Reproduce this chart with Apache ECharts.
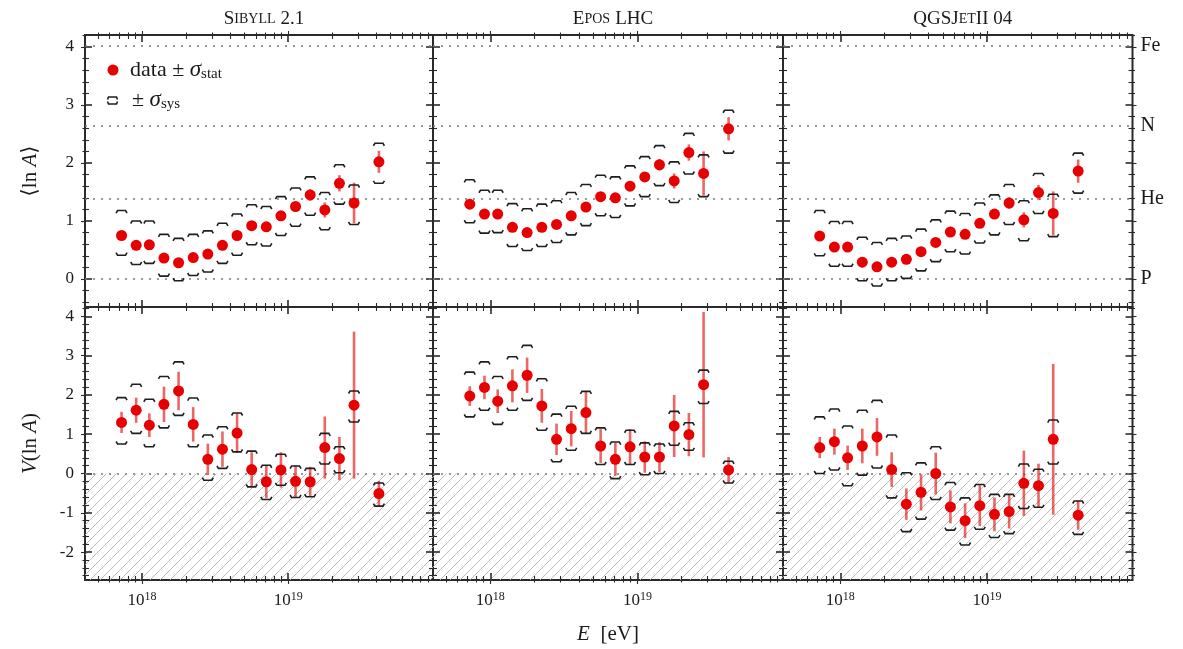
<!DOCTYPE html>
<html><head><meta charset="utf-8">
<script src="https://cdn.jsdelivr.net/npm/echarts@6/dist/echarts.min.js"></script>
<style>html,body{margin:0;padding:0;background:#fff}#c{width:1183px;height:649px}</style>
</head><body><div id="c"></div>
<script>
// ---------------- data ----------------
const modelTitles = ['{a|S}{b|IBYLL} {a|2.1}', '{a|E}{b|POS} {a|LHC}', '{a|QGSJ}{b|ET}{a|II 04}'];
const elementNames = ['P', 'He', 'N', 'Fe'];
const elementLnA = [0, 1.386, 2.639, 4.025];
const xTickLabels = [18, 19];           // 10^18, 10^19
const lgE = [17.86, 17.96, 18.05, 18.15, 18.25, 18.35, 18.45, 18.55, 18.65, 18.75, 18.85, 18.95, 19.05, 19.15, 19.25, 19.35, 19.45, 19.62];

// <ln A>
const sibLnA      = [0.75, 0.58, 0.59, 0.36, 0.28, 0.37, 0.43, 0.58, 0.75, 0.92, 0.90, 1.09, 1.25, 1.45, 1.19, 1.65, 1.31, 2.02];
const sibLnAStat  = [0.04, 0.04, 0.04, 0.04, 0.04, 0.04, 0.04, 0.05, 0.05, 0.06, 0.06, 0.07, 0.08, 0.10, 0.13, 0.14, 0.35, 0.19];
const sibLnASysHi = [1.18, 1.00, 1.00, 0.77, 0.70, 0.77, 0.83, 0.96, 1.12, 1.28, 1.25, 1.42, 1.57, 1.76, 1.49, 1.97, 1.62, 2.34];
const sibLnASysLo = [0.41, 0.25, 0.27, 0.05, -0.03, 0.06, 0.12, 0.27, 0.41, 0.59, 0.57, 0.75, 0.91, 1.10, 0.85, 1.29, 0.94, 1.65];

const eposLnA      = [1.29, 1.12, 1.12, 0.89, 0.80, 0.89, 0.94, 1.09, 1.24, 1.42, 1.40, 1.60, 1.76, 1.97, 1.69, 2.18, 1.82, 2.59];
const eposLnAStat  = [0.04, 0.04, 0.04, 0.04, 0.04, 0.04, 0.04, 0.05, 0.05, 0.06, 0.06, 0.07, 0.08, 0.10, 0.13, 0.14, 0.38, 0.20];
const eposLnASysHi = [1.71, 1.53, 1.53, 1.30, 1.21, 1.29, 1.35, 1.49, 1.63, 1.79, 1.76, 1.95, 2.11, 2.30, 2.02, 2.51, 2.14, 2.91];
const eposLnASysLo = [0.97, 0.79, 0.80, 0.56, 0.49, 0.56, 0.63, 0.76, 0.92, 1.09, 1.06, 1.26, 1.42, 1.61, 1.32, 1.81, 1.42, 2.17];

const qgsLnA      = [0.74, 0.55, 0.55, 0.29, 0.21, 0.29, 0.34, 0.47, 0.63, 0.81, 0.77, 0.96, 1.12, 1.31, 1.02, 1.49, 1.13, 1.86];
const qgsLnAStat  = [0.04, 0.04, 0.04, 0.04, 0.04, 0.04, 0.04, 0.05, 0.05, 0.06, 0.06, 0.07, 0.08, 0.10, 0.13, 0.13, 0.38, 0.20];
const qgsLnASysHi = [1.18, 0.99, 0.99, 0.72, 0.63, 0.70, 0.74, 0.86, 1.02, 1.17, 1.13, 1.31, 1.45, 1.63, 1.35, 1.82, 1.46, 2.17];
const qgsLnASysLo = [0.40, 0.22, 0.22, -0.03, -0.12, -0.03, 0.01, 0.14, 0.30, 0.47, 0.43, 0.62, 0.76, 0.94, 0.66, 1.13, 0.73, 1.48];

// V(ln A)
const sibV      = [1.30, 1.61, 1.23, 1.76, 2.10, 1.25, 0.36, 0.62, 1.03, 0.10, -0.21, 0.09, -0.20, -0.21, 0.66, 0.38, 1.74, -0.51];
const sibVStat  = [0.27, 0.32, 0.30, 0.45, 0.49, 0.44, 0.40, 0.45, 0.50, 0.44, 0.42, 0.45, 0.40, 0.38, 0.79, 0.55, 1.87, 0.32];
const sibVSysHi = [1.93, 2.27, 1.89, 2.47, 2.84, 1.92, 0.98, 1.19, 1.54, 0.57, 0.21, 0.49, 0.19, 0.13, 1.02, 0.68, 2.10, -0.24];
const sibVSysLo = [0.75, 1.02, 0.68, 1.16, 1.48, 0.68, -0.17, 0.13, 0.55, -0.34, -0.66, -0.30, -0.61, -0.59, 0.24, 0.02, 1.31, -0.83];

const eposV      = [1.97, 2.19, 1.84, 2.23, 2.50, 1.72, 0.87, 1.14, 1.55, 0.70, 0.36, 0.68, 0.42, 0.42, 1.21, 0.99, 2.26, 0.09];
const eposVStat  = [0.25, 0.30, 0.30, 0.42, 0.45, 0.43, 0.40, 0.45, 0.53, 0.43, 0.42, 0.45, 0.40, 0.38, 0.79, 0.55, 1.85, 0.33];
const eposVSysHi = [2.58, 2.84, 2.47, 2.97, 3.26, 2.41, 1.51, 1.71, 2.09, 1.16, 0.80, 1.10, 0.78, 0.75, 1.58, 1.29, 2.63, 0.31];
const eposVSysLo = [1.44, 1.61, 1.25, 1.61, 1.86, 1.10, 0.30, 0.59, 1.02, 0.23, -0.13, 0.23, -0.03, 0.00, 0.72, 0.59, 1.78, -0.24];

const qgsV      = [0.66, 0.81, 0.40, 0.70, 0.93, 0.10, -0.78, -0.48, 0.00, -0.85, -1.20, -0.82, -1.04, -0.97, -0.25, -0.31, 0.87, -1.06];
const qgsVStat  = [0.27, 0.33, 0.31, 0.44, 0.48, 0.44, 0.40, 0.46, 0.53, 0.42, 0.44, 0.52, 0.43, 0.43, 0.83, 0.56, 1.92, 0.37];
const qgsVSysHi = [1.44, 1.64, 1.21, 1.61, 1.86, 0.98, 0.02, 0.27, 0.68, -0.23, -0.62, -0.28, -0.53, -0.53, 0.24, 0.11, 1.36, -0.70];
const qgsVSysLo = [0.00, 0.09, -0.31, -0.04, 0.14, -0.62, -1.48, -1.16, -0.66, -1.44, -1.82, -1.42, -1.63, -1.53, -0.89, -0.86, 0.24, -1.55];

const panels = [
  [sibLnA, sibLnAStat, sibLnASysHi, sibLnASysLo],
  [eposLnA, eposLnAStat, eposLnASysHi, eposLnASysLo],
  [qgsLnA, qgsLnAStat, qgsLnASysHi, qgsLnASysLo],
  [sibV, sibVStat, sibVSysHi, sibVSysLo],
  [eposV, eposVStat, eposVSysHi, eposVSysLo],
  [qgsV, qgsVStat, qgsVSysHi, qgsVSysLo]
];

// ---------------- layout / style ----------------
const FONT = '"Liberation Serif", "DejaVu Serif", serif';
const TXT = '#1a1a1a';
const FRAME = '#2a2a2a';
const RED = '#e60000';
const xMin = 17.61, xMax = 19.99;
const rowCfg = [
  {top: 35, height: 272, min: -0.483, max: 4.207, major: [0, 1, 2, 3, 4]},
  {top: 307, height: 273, min: -2.71, max: 4.237, major: [-2, -1, 0, 1, 2, 3, 4]}
];
const colCfg = [{left: 85, width: 348}, {left: 433, width: 350}, {left: 783, width: 349.5}];

const xMinor = [];
for (let n = 17; n <= 19; n++) for (let k = 2; k <= 9; k++) {
  const v = n + Math.log10(k);
  if (v > xMin && v < xMax) xMinor.push(v);
}
function yMinorOf(r) {
  const a = [];
  for (let i = Math.ceil(r.min * 5); i <= Math.floor(r.max * 5); i++) if (i % 5 !== 0) a.push(i / 5);
  return a;
}

function hatchPattern() {
  const s = 10, cv = document.createElement('canvas');
  cv.width = s; cv.height = s;
  const ctx = cv.getContext('2d');
  ctx.strokeStyle = '#b4b4b4'; ctx.lineWidth = 0.9;
  ctx.beginPath();
  ctx.moveTo(0, s); ctx.lineTo(s, 0);
  ctx.moveTo(-s / 2, s / 2); ctx.lineTo(s / 2, -s / 2);
  ctx.moveTo(s / 2, s * 1.5); ctx.lineTo(s * 1.5, s / 2);
  ctx.stroke();
  return cv;
}
const hatch = hatchPattern();

const grids = [], xAxes = [], yAxes = [], series = [], titles = [];
const baseAxis = {type: 'value', axisLine: {show: false, onZero: false}, splitLine: {show: false}, axisLabel: {show: false}};
function tick(inside, len, vals) {
  return {show: true, inside: inside, length: len, customValues: vals, lineStyle: {color: FRAME, width: len > 5 ? 1.6 : 1.1}};
}

// main axes first (index == grid index)
for (let r = 0; r < 2; r++) for (let c = 0; c < 3; c++) {
  const g = r * 3 + c, R = rowCfg[r];
  grids.push({left: colCfg[c].left, top: R.top, width: colCfg[c].width, height: R.height,
    show: true, borderColor: FRAME, borderWidth: 2, backgroundColor: 'transparent'});
  const xa = Object.assign({}, baseAxis, {gridIndex: g, min: xMin, max: xMax, position: 'bottom',
    axisTick: tick(true, 7, xTickLabels),
    axisLabel: {show: r === 1, customValues: xTickLabels, margin: 11,
      formatter: v => '10{s|' + Math.round(v) + '}',
      color: TXT, fontFamily: FONT, fontSize: 17,
      rich: {s: {fontSize: 12, fontFamily: FONT, color: TXT, verticalAlign: 'top', padding: [0, 0, 8, 0]}}}});
  if (g === 4) {
    Object.assign(xa, {name: '{i|E}  [eV]', nameLocation: 'middle', nameGap: 44,
      nameTextStyle: {fontFamily: FONT, fontSize: 21, color: TXT, rich: {i: {fontStyle: 'italic', fontFamily: FONT, fontSize: 21, color: TXT}}}});
  }
  xAxes.push(xa);
  const ya = Object.assign({}, baseAxis, {gridIndex: g, min: R.min, max: R.max, position: 'left',
    axisTick: tick(true, 7, R.major),
    axisLabel: {show: c === 0, customValues: R.major, margin: 11, color: TXT, fontFamily: FONT, fontSize: 17}});
  if (c === 0) {
    Object.assign(ya, {name: r === 0 ? '\u27E8ln {i|A}\u27E9' : '{i|V}(ln {i|A})', nameLocation: 'middle', nameGap: 44, nameRotate: 90,
      nameTextStyle: {fontFamily: FONT, fontSize: 21, color: TXT, rich: {i: {fontStyle: 'italic', fontFamily: FONT, fontSize: 21, color: TXT}}}});
  }
  yAxes.push(ya);
}
// decorative tick axes
for (let r = 0; r < 2; r++) for (let c = 0; c < 3; c++) {
  const g = r * 3 + c, R = rowCfg[r], yMinor = yMinorOf(R);
  const xb = {gridIndex: g, min: xMin, max: xMax};
  const yb = {gridIndex: g, min: R.min, max: R.max};
  xAxes.push(Object.assign({}, baseAxis, xb, {position: 'bottom', axisTick: tick(true, 4, xMinor)}));
  xAxes.push(Object.assign({}, baseAxis, xb, {position: 'top', axisTick: tick(true, 7, xTickLabels)}));
  xAxes.push(Object.assign({}, baseAxis, xb, {position: 'top', axisTick: tick(true, 4, xMinor)}));
  yAxes.push(Object.assign({}, baseAxis, yb, {position: 'left', axisTick: tick(true, 4, yMinor)}));
  yAxes.push(Object.assign({}, baseAxis, yb, {position: 'right', axisTick: tick(true, 7, R.major)}));
  yAxes.push(Object.assign({}, baseAxis, yb, {position: 'right', axisTick: tick(true, 4, yMinor)}));
  // outer edges: outside ticks
  if (r === 0) {
    xAxes.push(Object.assign({}, baseAxis, xb, {position: 'top', axisTick: tick(false, 4, xTickLabels)}));
    xAxes.push(Object.assign({}, baseAxis, xb, {position: 'top', axisTick: tick(false, 2.5, xMinor)}));
  } else {
    xAxes.push(Object.assign({}, baseAxis, xb, {position: 'bottom', axisTick: tick(false, 4, xTickLabels)}));
    xAxes.push(Object.assign({}, baseAxis, xb, {position: 'bottom', axisTick: tick(false, 2.5, xMinor)}));
  }
  if (c === 0) {
    yAxes.push(Object.assign({}, baseAxis, yb, {position: 'left', axisTick: tick(false, 4, R.major)}));
    yAxes.push(Object.assign({}, baseAxis, yb, {position: 'left', axisTick: tick(false, 2.5, yMinor)}));
  }
  if (c === 2) {
    yAxes.push(Object.assign({}, baseAxis, yb, {position: 'right', axisTick: tick(false, 4, R.major)}));
    yAxes.push(Object.assign({}, baseAxis, yb, {position: 'right', axisTick: tick(false, 2.5, yMinor)}));
  }
}
// element labels at the right of the top-right panel
yAxes.push(Object.assign({}, baseAxis, {gridIndex: 2, min: rowCfg[0].min, max: rowCfg[0].max, position: 'right',
  axisTick: {show: false},
  axisLabel: {show: true, customValues: elementLnA, margin: 8, color: TXT, fontFamily: FONT, fontSize: 20,
    formatter: v => elementNames[elementLnA.findIndex(e => Math.abs(e - v) < 1e-6)] || ''}}));

// titles
for (let c = 0; c < 3; c++) {
  titles.push({text: modelTitles[c], left: colCfg[c].left + colCfg[c].width / 2, top: 5, textAlign: 'center',
    textStyle: {fontWeight: 'normal', rich: {a: {fontFamily: FONT, fontSize: 19, fontWeight: 'normal', color: TXT},
      b: {fontFamily: FONT, fontSize: 14, fontWeight: 'normal', color: TXT}}}});
}

function renderErr(params, api) {
  const x = api.value(0), m = api.value(1), s = api.value(2), hi = api.value(3), lo = api.value(4);
  const pT = api.coord([x, m + s]), pB = api.coord([x, m - s]);
  const pH = api.coord([x, hi]), pL = api.coord([x, lo]);
  const w = 5.5, h = 2.5;
  return {type: 'group', children: [
    {type: 'line', shape: {x1: pT[0], y1: pT[1], x2: pB[0], y2: pB[1]},
      style: {stroke: 'rgba(228,20,20,0.65)', lineWidth: 2.6}},
    {type: 'polyline', shape: {points: [[pH[0] - w, pH[1] + h], [pH[0] - w + 1.5, pH[1]], [pH[0] + w - 1.5, pH[1]], [pH[0] + w, pH[1] + h]]},
      style: {stroke: '#1e1e1e', lineWidth: 1.6, fill: null}},
    {type: 'polyline', shape: {points: [[pL[0] - w, pL[1] - h], [pL[0] - w + 1.5, pL[1]], [pL[0] + w - 1.5, pL[1]], [pL[0] + w, pL[1] - h]]},
      style: {stroke: '#1e1e1e', lineWidth: 1.6, fill: null}}
  ]};
}

for (let g = 0; g < 6; g++) {
  const [mean, stat, hi, lo] = panels[g];
  const rows = lgE.map((x, i) => [x, mean[i], stat[i], hi[i], lo[i]]);
  const refVals = g < 3 ? elementLnA : [0];
  const s = {type: 'custom', xAxisIndex: g, yAxisIndex: g, data: rows, renderItem: renderErr, clip: true, z: 3,
    encode: {x: 0, y: 1}, silent: true,
    markLine: {silent: true, symbol: 'none', label: {show: false}, z: 1,
      lineStyle: {color: '#7a7a7a', width: 1.5, type: [2, 6]},
      data: refVals.map(v => ({yAxis: v}))}};
  if (g >= 3) {
    s.markArea = {silent: true, z: 0, itemStyle: {color: {image: hatch, repeat: 'repeat'}, opacity: 1},
      data: [[{yAxis: rowCfg[1].min}, {yAxis: 0}]]};
  }
  series.push(s);
  series.push({type: 'scatter', xAxisIndex: g, yAxisIndex: g, data: lgE.map((x, i) => [x, mean[i]]),
    symbol: 'circle', symbolSize: 11, itemStyle: {color: RED, opacity: 1}, z: 4, silent: true});
}

const legendRich = {i: {fontStyle: 'italic', fontFamily: FONT, fontSize: 23, fill: TXT},
  sub: {fontFamily: FONT, fontSize: 15, fill: TXT, verticalAlign: 'bottom', padding: [9, 0, 0, 0]}};
const option = {
  animation: false,
  backgroundColor: '#fff',
  title: titles,
  grid: grids,
  xAxis: xAxes,
  yAxis: yAxes,
  series: series,
  graphic: [
    {type: 'circle', shape: {cx: 113, cy: 70, r: 5.5}, style: {fill: RED}, z: 10},
    {type: 'text', x: 130, y: 70, z: 10, style: {text: 'data \u00B1 {i|\u03C3}{sub|stat}', font: '22px ' + FONT, fill: TXT, verticalAlign: 'middle', rich: legendRich}},
    {type: 'polyline', z: 10, shape: {points: [[107.5, 99.5], [108.5, 97], [116.5, 97], [117.5, 99.5]]}, style: {stroke: '#1e1e1e', lineWidth: 1.6, fill: null}},
    {type: 'polyline', z: 10, shape: {points: [[107.5, 101.5], [108.5, 104], [116.5, 104], [117.5, 101.5]]}, style: {stroke: '#1e1e1e', lineWidth: 1.6, fill: null}},
    {type: 'text', x: 132, y: 100, z: 10, style: {text: '\u00B1 {i|\u03C3}{sub|sys}', font: '22px ' + FONT, fill: TXT, verticalAlign: 'middle', rich: legendRich}}
  ]
};
const chart = echarts.init(document.getElementById('c'), null, {renderer: 'canvas'});
chart.setOption(option);
</script>
</body></html>
